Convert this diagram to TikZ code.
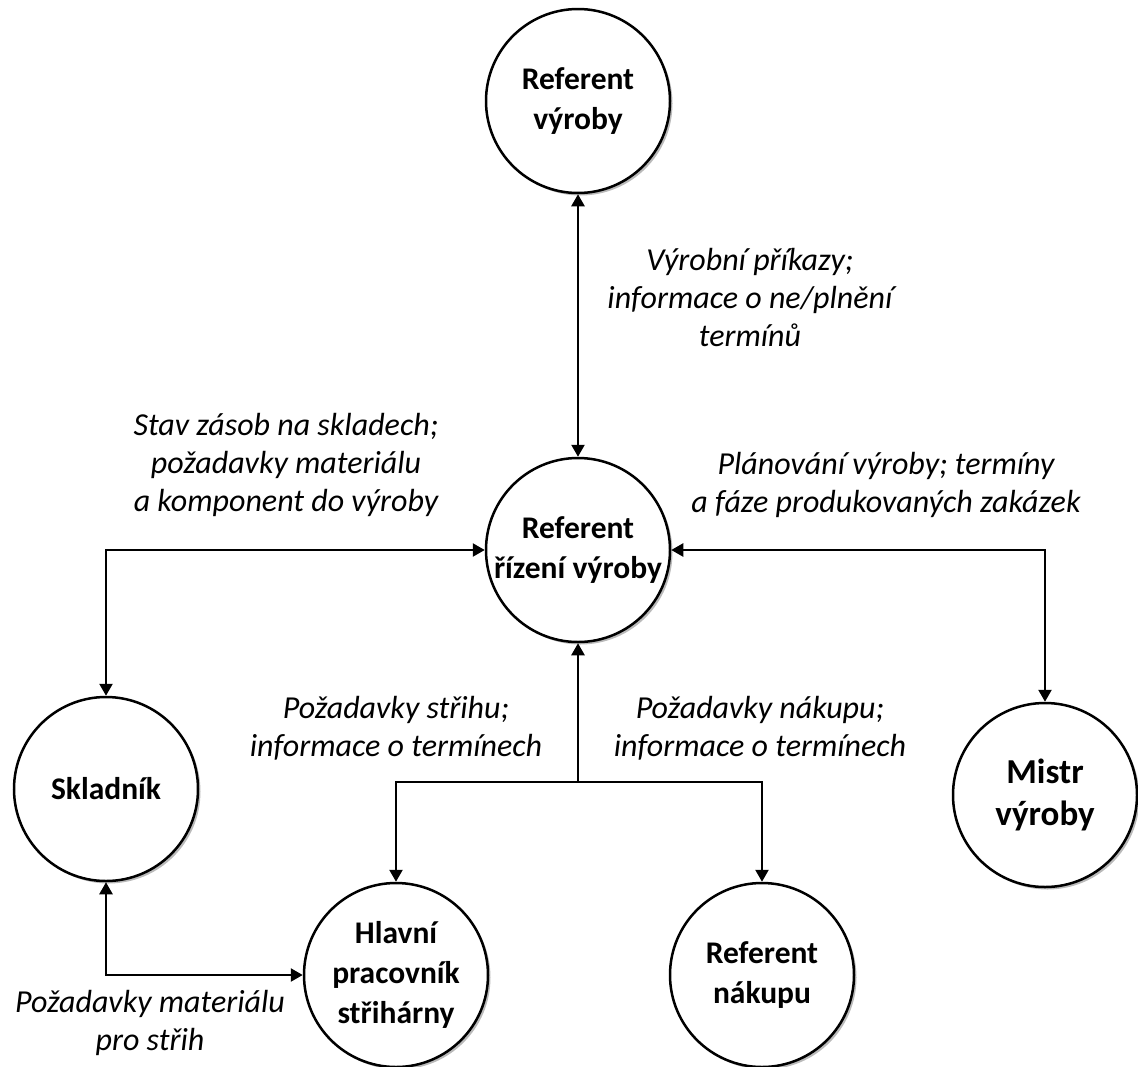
\documentclass[tikz,border=0pt]{standalone}
\usepackage{fontspec}
\setmainfont{Carlito}
\usetikzlibrary{arrows.meta,shadows}
\begin{document}
\begin{tikzpicture}[x=1pt,y=-1pt,
  role/.style={circle,draw,line width=2.5pt,fill=white,minimum size=184pt,inner sep=0pt,
    align=center,font=\fontsize{31.5}{40}\selectfont\bfseries,
    drop shadow={shadow xshift=2.5pt,shadow yshift=-2.5pt,opacity=0.45,fill=black!60}},
  tip/.tip={Triangle[length=12pt,width=13pt]},
  flow/.style={line width=2.4pt,-tip},
  both/.style={line width=2.4pt,tip-tip},
  lbl/.style={align=center,font=\fontsize{32}{38}\selectfont\itshape}]
\useasboundingbox (0,0) rectangle (1138,1066);

% roles
\node[role] (rv) at (578,101) {Referent\\výroby};
\node[role] (rr) at (578,550) {Referent\\řízení výroby};
\node[role] (sk) at (106,789) {Skladník};
\node[role] (hp) at (396,975) {Hlavní\\pracovník\\střihárny};
\node[role] (rn) at (762,975) {Referent\\nákupu};
\node[role,font=\fontsize{35}{42}\selectfont\bfseries] (mv) at (1045,795) {Mistr\\výroby};

% links
\draw[both] (rv.south) -- (rr.north);
\draw[both] (rr.west) -| (sk.north);
\draw[both] (rr.east) -| (mv.north);
\coordinate (split) at (578,782);
\draw[flow] (split) -- (rr.south);
\draw[flow] (split) -| (hp.north);
\draw[flow] (split) -| (rn.north);
\draw[both] (sk.south) |- (hp.west);

% link labels
\node[lbl] (l1) at (750,298) {Výrobní příkazy;\\informace o ne/plnění\\termínů};
\node[lbl] (l2) at (286,465) {Stav zásob na skladech;\\požadavky materiálu\\a komponent do výroby};
\node[lbl] (l3) at (886,485) {Plánování výroby; termíny\\a fáze produkovaných zakázek};
\node[lbl] (l4) at (396,728) {Požadavky střihu;\\informace o termínech};
\node[lbl] (l5) at (760,728) {Požadavky nákupu;\\informace o termínech};
\node[lbl] (l6) at (150,1023) {Požadavky materiálu\\pro střih};
\end{tikzpicture}
\end{document}
